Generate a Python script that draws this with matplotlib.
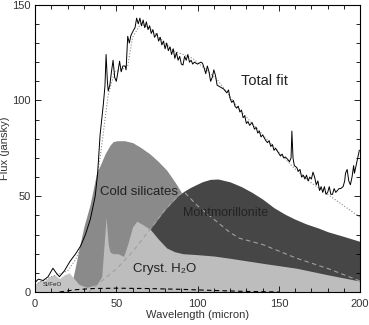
#!/usr/bin/env python3
"""
Spectral fit of a far-IR SED: observed flux, total fit and dust components
"""

import matplotlib
matplotlib.use('Agg')
import matplotlib.pyplot as plt
from matplotlib.ticker import MultipleLocator

FONT = ['Liberation Sans Narrow', 'Liberation Sans', 'DejaVu Sans']
plt.rcParams['font.family'] = FONT

# observed spectrum (wavelength in micron, flux in jansky)
obs_x = [0, 2, 5, 8, 11, 13, 15, 18, 21.5, 25, 28, 31, 34, 36, 37, 38.5, 40, 42, 43,
         43.7, 44.5, 45, 46, 47, 48, 49, 50, 51, 52, 53, 54, 55.4, 56, 57, 58, 59,
         60.5, 61.5, 62.5, 63.5, 64.5, 65.5, 66.5, 67.5, 68.5, 69.5, 70.5, 71.5,
         72.5, 73.5, 75, 76, 77, 78, 79, 80, 81, 82, 83, 84, 85, 86, 87, 88, 89, 90,
         91, 92, 93, 94, 95, 96, 97, 98, 100, 102, 103, 104, 105, 106, 107, 108, 109,
         110, 111, 112, 114, 116, 118, 119, 120, 121, 122, 123, 124, 125, 126, 127,
         128, 129, 130, 131, 132, 133.5, 135, 136, 137, 138, 139, 140, 142, 143, 144,
         145, 146, 147, 148, 149.5, 151, 152, 153, 154, 155.7, 156.5, 157.5, 158,
         158.7, 159.5, 161, 162, 163, 164, 165, 166, 167, 168, 169, 170, 171, 172,
         173, 174, 175, 176, 177, 178, 179, 180, 181, 182, 183, 184, 185, 186, 187,
         188, 189.5, 190.5, 191, 192, 193, 194, 195, 196, 196.5, 197, 198, 199.5]
obs_y = [5, 6.7, 6, 8, 12.4, 10, 8, 11, 16, 20, 24, 30, 38, 46, 50, 62, 82, 98, 107.5,
         124, 110, 105, 108, 115, 121, 112, 110, 115, 120.5, 115, 118, 118, 116,
         133.5, 130, 134, 136.6, 138, 143, 140, 143, 139, 142, 138, 141, 137, 139,
         135, 137, 133, 135, 131, 133, 129, 131, 127, 130, 126, 128, 124, 127, 122,
         125, 121, 123, 119, 118.5, 123, 121, 124, 120, 121, 119, 120, 119, 120,
         119.5, 117, 114, 118, 115, 110, 112, 116, 113, 108, 107, 106, 104, 105.5,
         101, 99, 100, 97, 96, 97, 94, 95, 91, 92, 88, 89, 87, 88.5, 85, 86, 83, 84,
         81, 82, 79, 78, 79, 76, 77, 74, 75, 73, 71, 72, 70, 70.5, 69, 68, 70, 84,
         70, 66, 65, 63, 64, 60, 61, 59, 61, 58, 60, 59, 62.6, 60, 56, 58, 53, 55,
         52, 55, 51, 52, 55, 51, 51, 54, 52, 53, 54, 54, 55, 58, 62, 64, 58, 56, 60,
         66, 62, 64, 68, 74]

# total fit
fit_x = [0, 10, 20, 25, 30, 35, 40, 45, 49, 53, 57, 60, 65, 70, 80, 85, 97, 112,
         126, 138, 150, 159, 170, 180, 190, 200]
fit_y = [4, 8, 11, 17, 27, 44, 70, 103, 115, 116, 118, 133, 140, 138, 130, 126,
         122, 111, 95, 84, 73, 65, 57, 51, 45, 39]

# cold silicates
cold_x = [21, 23, 25, 27.7, 30, 33.8, 38, 40, 43, 46, 48, 50.5, 55, 60, 65, 70.8,
          76, 81, 86, 91, 100, 120, 150, 200]
cold_y = [0, 6, 14, 25, 34, 45.5, 62.6, 66, 72, 76.5, 78.5, 79, 79, 78, 75.5, 72,
          68, 63.6, 57.5, 50.7, 42, 28, 15, 5]

# montmorillonite
mont_x = [55, 60, 65, 71, 80, 89, 92, 95.4, 99, 103, 107.7, 112.6, 120, 127,
          133.5, 140, 147, 154, 160, 167, 174, 180, 190, 200]
mont_y = [10, 18, 25, 33, 43, 51, 52.8, 54.5, 56, 57.6, 58.8, 59, 57.5, 55,
          52, 48.5, 44, 40.5, 38, 35.5, 33.5, 31.5, 29, 26.4]

# crystalline water ice
h2o_x = [20, 30, 38, 41, 42.5, 43.7, 45, 46, 48, 51, 54.5, 57, 60, 62.6, 66.7,
         71, 76, 81, 86, 91, 100, 110, 120, 140, 161, 180, 200]
h2o_y = [0, 2, 4, 8, 25, 39, 25, 21, 20, 20, 18.6, 25, 34, 37, 35, 32.6, 27.5,
         23, 21, 20, 19.5, 18.8, 17.6, 15, 12.4, 9, 5.7]

# Si/FeO
sifeo_x = [0, 3, 6, 9, 12, 15, 18, 21, 24, 27, 30, 33, 36]
sifeo_y = [4, 6, 6, 8, 9, 7, 9, 10, 7, 4, 3, 2, 0.5]

# warm blackbody-like component (light dashed)
bb_x = [33, 40, 50, 60, 71, 80, 86, 89, 92, 96, 100, 110, 120, 126, 140, 161,
        181, 200]
bb_y = [0, 5, 12, 21, 33, 43, 48.5, 51, 52, 48.5, 45, 38, 31, 28, 24.8, 17.6,
        12, 5.7]

# very cold component (black dashed)
vc_x = [15, 25, 35, 50, 70, 90, 110, 130, 150]
vc_y = [0, 1.2, 1.8, 2, 1.8, 1.4, 0.8, 0.3, 0]

fig = plt.figure(figsize=(3.69, 3.25), dpi=100)
ax = fig.add_axes([0.095, 0.1015, 0.881, 0.884])

ax.fill_between(cold_x, 0, cold_y, color='#8a8a8a', lw=0)
ax.fill_between(mont_x, 0, mont_y, color='#464646', lw=0)
ax.fill_between(h2o_x, 0, h2o_y, color='#bdbdbd', lw=0)
ax.fill_between(sifeo_x, 0, sifeo_y, color='#c4c4c4', lw=0)

ax.plot(bb_x, bb_y, color='#a0a0a0', lw=0.8, ls=(0, (4, 3)))
ax.plot(vc_x, vc_y, color='black', lw=0.8, ls=(0, (4, 3)))
ax.plot(fit_x, fit_y, color='#888888', lw=0.8, ls=':')
ax.plot(obs_x, obs_y, color='black', lw=0.7)

txt = dict(family=FONT, color='#222222')
ax.text(127, 108, 'Total fit', fontsize=10.5, **txt)
ax.text(40, 52, 'Cold silicates', fontsize=9.5, va='center', **txt)
ax.text(91, 41, 'Montmorillonite', fontsize=9, va='center', **txt)
ax.text(60, 12, 'Cryst. H\u2082O', fontsize=9.5, va='center', **txt)
ax.text(5, 4, 'Si/FeO', fontsize=4.5, va='center', **txt)

ax.set_xlim(0, 200)
ax.set_ylim(0, 150)
ax.xaxis.set_major_locator(MultipleLocator(50))
ax.xaxis.set_minor_locator(MultipleLocator(10))
ax.yaxis.set_major_locator(MultipleLocator(50))
ax.yaxis.set_minor_locator(MultipleLocator(10))
ax.tick_params(which='both', direction='in', top=True, right=True,
               labelsize=8, labelcolor='#333333', width=0.6)
ax.tick_params(which='major', length=4)
ax.tick_params(which='minor', length=3)
ax.tick_params(axis='x', which='major', pad=5)
ax.tick_params(axis='y', which='major', pad=3)
for s in ax.spines.values():
    s.set_linewidth(0.8)

ax.set_xlabel('Wavelength (micron)', fontsize=8, color='#333333', labelpad=1)
ax.set_ylabel('Flux (jansky)', fontsize=8, color='#333333', labelpad=2)

plt.savefig('out.png', dpi=100)
